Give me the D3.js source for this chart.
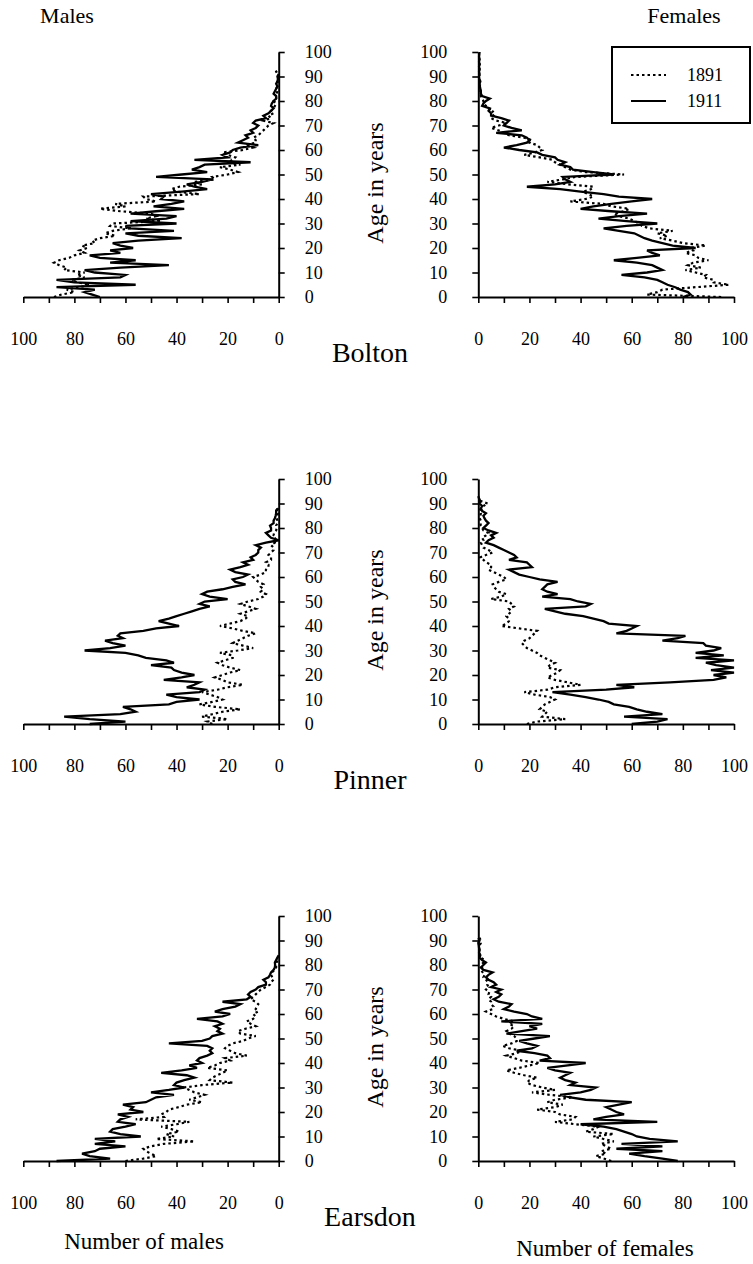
<!DOCTYPE html>
<html>
<head>
<meta charset="utf-8">
<script src="https://cdn.jsdelivr.net/npm/d3@7"></script>
<style>
  body { margin: 0; background: #fff; }
</style>
</head>
<body>
<div id="chart"></div>
<script>
var svgWidth = 753;
var svgHeight = 1264;
var serif = "'Liberation Serif', 'DejaVu Serif', serif";

var towns = ["Bolton", "Pinner", "Earsdon"];
var years = ["1891", "1911"];
var ageTicks = [0, 10, 20, 30, 40, 50, 60, 70, 80, 90, 100];
var countTicks = [0, 10, 20, 30, 40, 50, 60, 70, 80, 90, 100];

// number of people at each single year of age (index = age)
var boltonMale1891 = [88,85,80,83,78,74,79,81,76,79, 76,84,83,86,88,86,82,80,76,78, 75,77,72,73,70,64,68,65,58,66,
  65,46,52,48,50,62,70,60,64,48, 52,53,31,40,42,39,30,33,25,26, 20,16,19,23,15,20,18,17,20,22,
  14,10,13,9,9,10,8,7,6,5, 4,2,6,3,4,2,3,2,1.5,1, 2,1,1,0.8,0.5,1,0.5,0.3,0.5,0.3, 0.2,0.5,1,0];
var boltonMale1911 = [70,73,76,72,87,56,80,87,62,60, 72,76,62,43,66,56,70,74,62,66, 57,62,65,55,38,55,60,41,58,60,
  40,58,44,40,58,48,37,49,42,37, 46,45,50,38,28,33,36,30,26,48, 38,28,34,31,29,11,33,20,22,19,
  18,15,8,16,14,12,13,10,11,9, 8,10,9,5,6,4,3,2,3,2.7, 2,1,1,2,1.5,1,0.5,1,0.5,0.3, 0.5,0];
var boltonFemale1891 = [95,66,70,72,85,98,92,92,88,89, 85,81,87,82,84,90,86,85,81,84, 83,89,80,76,71,74,70,76,67,64,
  63,61,59,55,53,57,59,52,49,36, 42,45,43,41,44,45,35,27,33,38, 57,42,36,34,32,30,29,24,18,22,
  25,24,23,20,21,18,12,10,8,5, 8,11,7,5,6,5,6,4,3,2, 2,1.5,1,1,0.8,1,0.5,0.8,0.5,0.3,
  0.5,0.3,0.2,0.5,0.3,0.6,0.3,0.4,0.2,0.3];
var boltonFemale1911 = [80,83,82,79,77,74,72,70,65,56, 66,72,70,68,62,53,62,71,68,66, 85,76,72,68,65,63,61,55,49,58,
  70,58,47,55,66,52,40,45,52,60, 68,55,49,40,32,19,30,36,34,33, 53,45,37,36,32,34,31,30,25,23,
  16,10,15,19,20,19,17,7,17,13, 10,11,12,9,5,5,4,4.5,1.5,2, 3,4.5,1.5,1,1,0.8,0.6,0.5,0.8,0.4,
  0.3,0.5,0.3,0.5,0.3,0.4,0.3,0.5,0.3,0.4,0.5];

var pinnerMale1891 = [26,28,20,30,26,22,15,25,31,26, 22,24,27,30,24,20,14,20,22,25, 22,19,15,19,22,24,21,18,18,23,
  16,10,14,18,16,14,12,9,14,18, 23,19,15,13,12,15,12,9,12,15, 12,8,6,5,7,6,7,6,8,9,
  10,7,5,5,4,4,5,3,3,4, 3,2,2,3,1.5,2,1,2,1.8,1, 0.8,1,0.5,0.5,0.8,0.5,0.3,1,0.5,0];
var pinnerMale1911 = [74,60,74,84,62,56,58,61,43,40, 31,40,44,31,29,36,33,31,45,38, 33,38,41,42,50,41,44,52,55,60,
  76,66,60,65,68,61,63,62,53,48, 39,43,47,43,40,37,34,31,27,31, 29,20,27,30,28,22,18,13,17,18,
  14,12,17,19,15,12,14,10,11,9, 8,8,7,9,5,0,3,4,5,3, 3,3.4,2,2,1.5,1.2,1,1,0];
var pinnerFemale1891 = [19,23,34,25,26,27,24,25,26,28, 30,28,22,18,27,30,40,35,30,27, 29,31,32,27,28,30,28,26,24,23,
  21,19,18,17,18,20,21,22,23,16, 9,11,12,12,11,12,13,12,14,13, 12,5,9,11,8,7,6,5.6,8,11,
  10,8,6,4,5,5,3,2,0.7,3, 5.6,4,2,1.5,1,2,1.5,3,4,2, 1.5,1,0.8,1,0.5,0.8,1,0.5,1,2, 3.7,1,0];
var pinnerFemale1911 = [60,70,74,57,72,66,62,59,53,51, 47,42,36,29,50,61,54,75,92,97, 92,100,91,100,93,89,100,85,96,85,
  92,95,89,88,72,78,81,54,58,60, 62,51,49,45,41,34,30,26,42,44, 39,36,25,31,27,25,26,27,31,24,
  20,16,14,12,21,20,19,12,15,14, 12,10,8,6,3,4,6,5,7,4, 2,3,4,3,2.4,2,3,1.5,1,1.5, 0.5,0.8,0.3,0];

var earsdonMale1891 = [60,53,48,50,52,53,50,45,33,48, 41,44,39,42,46,40,35,56,45,46, 44,43,39,36,30,35,32,29,33,35,
  37,30,18,27,26,24,22,20,28,25, 23,19,21,12.5,17,19,21,20,18,14, 12,9,15,16,13,9,11,12.5,10,9,
  10,8,9,8.6,8,9,11,10,9,8, 7,5,3.4,3,2,2.5,3,2.7,1.5,1, 1,0.8,0.5,0];
var earsdonMale1911 = [87,66,74,77,72,70,60,72,64,72, 54,62,66,65,60,56,63,62,59,63, 53,58,57,61,52,50,48,41,50,43,
  37,41,40,37,33,36,46,38,32,35, 30,32,31,28,26,27,26,28,43,30, 27,26,22,24,23,25,22,24,32,22,
  19,25,22,17,15,22,12.5,11,12,11, 9,8,5,5,6,4,3.4,3,2,1.5, 1.4,1.5,1,0.5,0];
var earsdonFemale1891 = [52,49,46,50,48,52,50,48,53,49, 45,53,42,45,47,38,30,37,38,32, 30,23,30,33,27,30,37,28,21,30,
  25,21,19,20,23,18,14,11,16,20, 24,17,14,11,15,17,12,9.5,13,15, 15,14,12,11,13,14,12,14,10,7,
  5,3,5.6,6,5,5,4,5,4,4.3, 3,4,3.5,3.7,3,2,2.5,1.7,1,1.5, 1,2,2.4,1,0.5,0.3,0.5,0.3,0.5,1, 1,0.5,0];
var earsdonFemale1911 = [78,72,65,59,72,54,72,56,78,67, 62,60,57,54,49,40,70,45,50,57, 54,52,50,55,60,42,36,32,40,44,
  46,36,38,34,32,34,36,30,27,35, 42,24,28,27,22,15,21,23,19,16, 22,28,11,17,23,20,25,9,25,21,
  19,14,10,12,13,8,6,8,9,7, 9,5,7,6,4,3,4,5.6,2,1, 2,3,1.5,0.5,0.8,0.3,0.5,0.3,0.2,0, 0.5,0];

var townData = {
  Bolton: { male: [boltonMale1891, boltonMale1911], female: [boltonFemale1891, boltonFemale1911] },
  Pinner: { male: [pinnerMale1891, pinnerMale1911], female: [pinnerFemale1891, pinnerFemale1911] },
  Earsdon: { male: [earsdonMale1891, earsdonMale1911], female: [earsdonFemale1891, earsdonFemale1911] }
};

var panelTops = [52, 479, 916];
var plotHeight = 245;
var dashes = ["2.5,3", null];

var svg = d3.select("#chart").append("svg")
  .attr("width", svgWidth)
  .attr("height", svgHeight)
  .attr("font-family", serif);

var xMale = d3.scaleLinear().domain([0, 100]).range([278.7, 23.3]);
var xFemale = d3.scaleLinear().domain([0, 100]).range([478.3, 734]);
var yScale = d3.scaleLinear().domain([0, 100]).range([plotHeight, 0]);

function countFormat(d) { return d % 20 === 0 ? d : ""; }

towns.forEach(function(town, i) {
  var g = svg.append("g").attr("transform", `translate(0, ${panelTops[i]})`);

  [["male", xMale], ["female", xFemale]].forEach(function(side) {
    var x = side[1];
    var line = d3.line()
      .x(function(d) { return x(d); })
      .y(function(d, age) { return yScale(age); });

    townData[town][side[0]].forEach(function(series, k) {
      g.append("path")
        .datum(series)
        .attr("fill", "none")
        .attr("stroke", "#000")
        .attr("stroke-width", k === 0 ? 2.2 : 2.3)
        .attr("stroke-dasharray", dashes[k])
        .attr("d", line);
    });

    g.append("g")
      .attr("transform", `translate(0, ${plotHeight})`)
      .call(d3.axisBottom(x).tickValues(countTicks).tickSize(6).tickSizeOuter(0)
        .tickPadding(29).tickFormat(countFormat));
  });

  // age axes
  g.append("g")
    .attr("transform", `translate(${xMale(0)}, 0)`)
    .call(d3.axisRight(yScale).tickValues(ageTicks).tickSize(6).tickSizeOuter(0).tickPadding(20));
  g.append("g")
    .attr("transform", `translate(${xFemale(0)}, 0)`)
    .call(d3.axisLeft(yScale).tickValues(ageTicks).tickSize(6).tickSizeOuter(0).tickPadding(25));

  g.append("text")
    .attr("transform", `translate(375, 131) rotate(-90)`)
    .attr("text-anchor", "middle")
    .attr("dy", "0.35em")
    .style("font-size", "24px")
    .text("Age in years");

  g.append("text")
    .attr("x", 370)
    .attr("y", plotHeight + 55)
    .attr("text-anchor", "middle")
    .attr("dy", "0.35em")
    .style("font-size", "28px")
    .text(town);
});

svg.selectAll(".domain").attr("stroke-width", 2);
svg.selectAll(".tick line").attr("stroke-width", 1.6);
svg.selectAll(".tick text").style("font-size", "18px");

// Headings and axis titles
svg.append("text").attr("x", 67).attr("y", 15).attr("dy", "0.35em")
  .attr("text-anchor", "middle").style("font-size", "22px").text("Males");
svg.append("text").attr("x", 684).attr("y", 15).attr("dy", "0.35em")
  .attr("text-anchor", "middle").style("font-size", "22px").text("Females");
svg.append("text").attr("x", 144).attr("y", 1241).attr("dy", "0.35em")
  .attr("text-anchor", "middle").style("font-size", "23px").text("Number of males");
svg.append("text").attr("x", 605).attr("y", 1248).attr("dy", "0.35em")
  .attr("text-anchor", "middle").style("font-size", "23px").text("Number of females");

// Legend
var legend = svg.append("g").attr("transform", "translate(612, 47)");
legend.append("rect")
  .attr("width", 138)
  .attr("height", 76)
  .attr("fill", "#fff")
  .attr("stroke", "#000")
  .attr("stroke-width", 2);
years.forEach(function(yr, k) {
  legend.append("line")
    .attr("x1", 19).attr("x2", 54)
    .attr("y1", 28 + k * 26).attr("y2", 28 + k * 26)
    .attr("stroke", "#000")
    .attr("stroke-width", 2)
    .attr("stroke-dasharray", dashes[k]);
  legend.append("text")
    .attr("x", 75)
    .attr("y", 28 + k * 26)
    .attr("dy", "0.35em")
    .style("font-size", "18px")
    .text(yr);
});

svg.selectAll("text").style("font-family", serif).attr("fill", "#000");
</script>
</body>
</html>
